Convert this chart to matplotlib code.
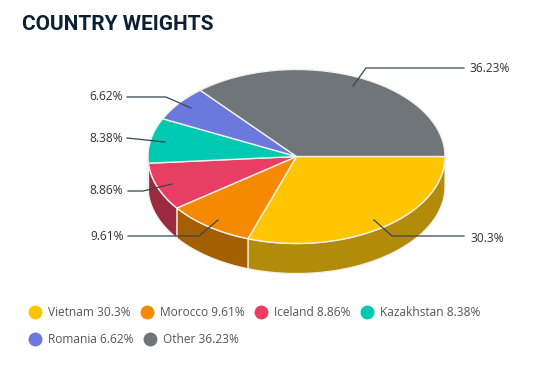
import numpy as np
import matplotlib
matplotlib.use("Agg")
import matplotlib.pyplot as plt
from matplotlib.patches import Polygon

title = "COUNTRY WEIGHTS"
countries = ["Vietnam", "Morocco", "Iceland", "Kazakhstan", "Romania", "Other"]
weights = [30.3, 9.61, 8.86, 8.38, 6.62, 36.23]
colors = ["#FFC600", "#F58A00", "#E83E64", "#00C9B1", "#6B78DC", "#70757A"]
side_colors = ["#B38B0B", "#A55F00", "#9C2A40", "#008F7E", "#4C5599", "#4F5356"]

# pie shape in pixels
cx, cy = 296.5, 156.5
rx, ry = 148.5, 87
depth = 30

# leader lines: start inside the slice, elbow, end next to the label
leaders = [
    [(374, 220), (392, 236), (464, 236)],
    [(218, 220), (199, 236), (128, 236)],
    [(172, 184), (143, 191), (128, 191)],
    [(165, 142), (127, 138), (127, 138)],
    [(191, 108), (166, 97), (127, 97)],
    [(353, 86), (366, 68), (464, 68)],
]
label_pos = [(470, 238), (124, 236), (123, 191), (123, 139), (123, 97), (469, 68)]
label_ha = ["left", "right", "right", "right", "right", "left"]

legend_pos = [(35, 312), (147, 312), (261, 312), (367, 312), (35, 339), (150, 339)]

fig = plt.figure(figsize=(5.59, 3.67), dpi=100)
ax = fig.add_axes([0, 0, 1, 1])
ax.set_xlim(0, 559)
ax.set_ylim(367, 0)
ax.axis("off")


def arc(a0, a1, dy=0):
    t = np.radians(np.linspace(a0, a1, 120))
    return np.column_stack([cx + rx * np.cos(t), cy + ry * np.sin(t) + dy])


angles = np.concatenate([[0], np.cumsum(weights)]) * 360 / sum(weights)

# side wall, only the front half shows
for i in range(len(weights)):
    a0, a1 = angles[i], min(angles[i + 1], 180)
    if a0 >= 180:
        continue
    wall = np.vstack([arc(a0, a1), arc(a0, a1, depth)[::-1]])
    ax.add_patch(Polygon(wall, closed=True, fc=side_colors[i], ec="#F4EFE4", lw=0.9, zorder=2))

# top of the pie
for i in range(len(weights)):
    top = np.vstack([[cx, cy], arc(angles[i], angles[i + 1])])
    ax.add_patch(Polygon(top, closed=True, fc=colors[i], ec="#F0F0EC", lw=1.0, zorder=3))

for i, pts in enumerate(leaders):
    xs, ys = zip(*pts)
    ax.plot(xs, ys, color="#37474F", lw=0.9, zorder=4)
    ax.text(label_pos[i][0], label_pos[i][1], f"{weights[i]}%", ha=label_ha[i], va="center",
            fontsize=8.6, family="Open Sans", color="#333333")

for i, (x, y) in enumerate(legend_pos):
    ax.scatter([x], [y], s=100, color=colors[i], linewidths=0, zorder=4)
    ax.text(x + 13, y + 0.5, f"{countries[i]} {weights[i]}%", ha="left", va="center",
            fontsize=8.6, family="Open Sans", color="#555555")

ax.text(21.5, 25, title, ha="left", va="center", fontsize=15, family="Roboto",
        fontweight="bold", color="#0B2033")

fig.savefig("out.png", dpi=100)
